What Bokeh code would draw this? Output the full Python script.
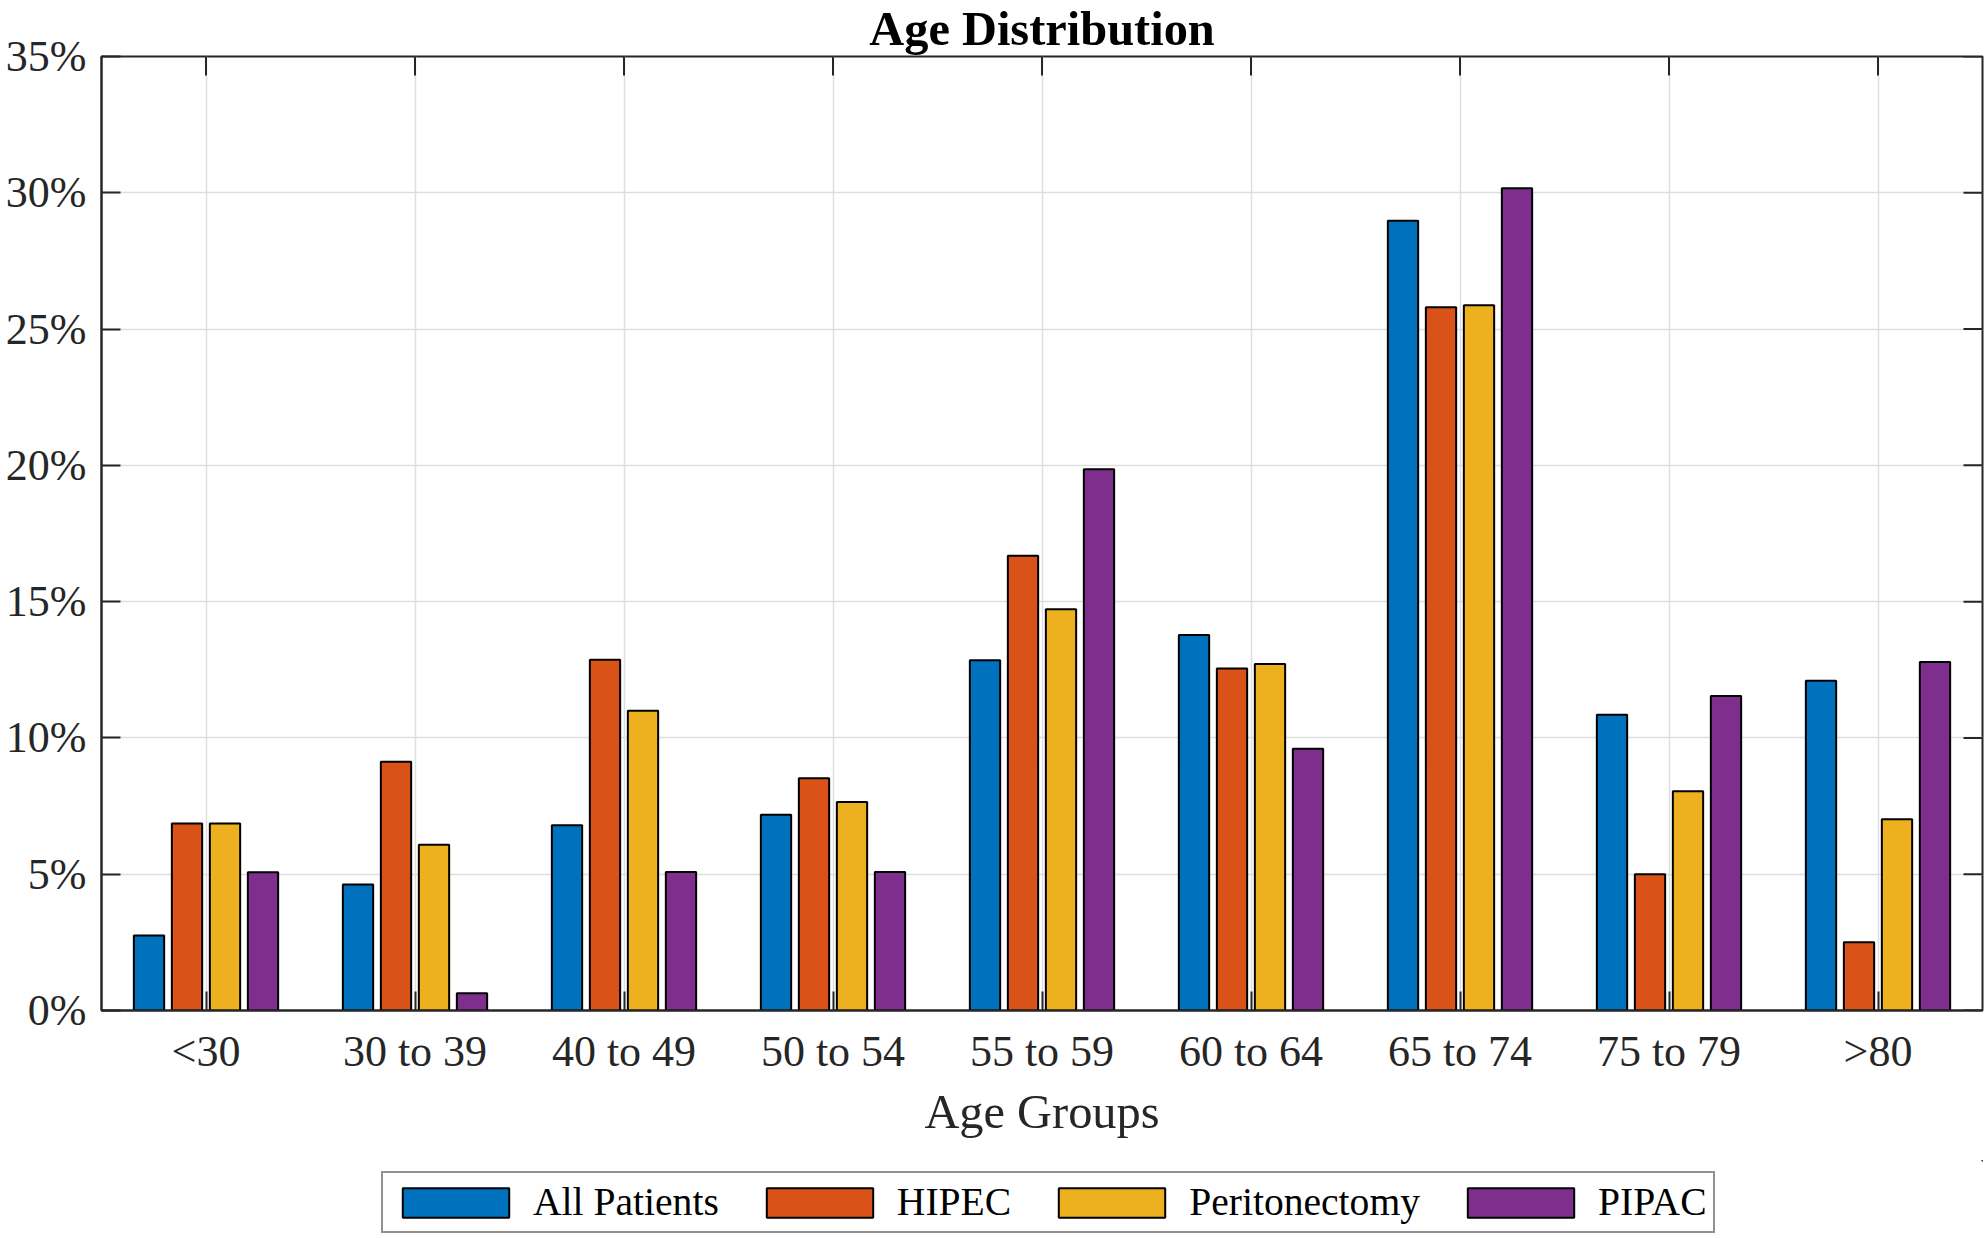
import math

from bokeh.plotting import figure
from bokeh.layouts import column
from bokeh.models import (ColumnDataSource, FactorRange, Range1d, FixedTicker,
                          PrintfTickFormatter, Legend, LegendItem)
from bokeh.transform import dodge
from bokeh.embed import file_html
from bokeh.resources import INLINE

# Share of patients (%) in each age group
age_groups = ["<30", "30 to 39", "40 to 49", "50 to 54", "55 to 59",
              "60 to 64", "65 to 74", "75 to 79", ">80"]
all_patients = [2.75, 4.62, 6.80, 7.18, 12.85, 13.78, 28.97, 10.85, 12.10]
hipec = [6.86, 9.13, 12.87, 8.52, 16.68, 12.55, 25.80, 5.00, 2.50]
peritonectomy = [6.86, 6.08, 11.00, 7.65, 14.72, 12.71, 25.87, 8.04, 7.02]
pipac = [5.07, 0.63, 5.08, 5.08, 19.86, 9.60, 30.17, 11.54, 12.79]

series_names = ["All Patients", "HIPEC", "Peritonectomy", "PIPAC"]
series_keys = ["all_patients", "hipec", "peritonectomy", "pipac"]
series_colors = ["#0072BD", "#D95319", "#EDB120", "#7E2F8E"]
y_ticks = [0, 5, 10, 15, 20, 25, 30, 35]
y_max = 35

source = ColumnDataSource(data=dict(
    group=age_groups,
    all_patients=all_patients,
    hipec=hipec,
    peritonectomy=peritonectomy,
    pipac=pipac,
))

FONT = "Liberation Serif"
INK = "#262626"
GRID = "#dedede"
TICK_LEN = 19
BAR_LINE = dict(line_color="black", line_width=2)

p = figure(
    width=1985, height=1160,
    x_range=FactorRange(*age_groups, range_padding=0),
    y_range=Range1d(0, y_max),
    output_backend="svg", toolbar_location=None,
    min_border_left=101, min_border_right=3,
    min_border_top=56, min_border_bottom=150,
    background_fill_color="white", border_fill_color="white",
)

# Grouped bars: four series per age group
offsets = [-0.2727, -0.0909, 0.0909, 0.2727]
for key, color, off in zip(series_keys, series_colors, offsets):
    p.vbar(x=dodge("group", off, range=p.x_range), top=key, width=0.145,
           source=source, fill_color=color, **BAR_LINE)

# Box ticks on the top and right edges (half of each dash is clipped by the frame)
top_ticks = ColumnDataSource(data=dict(group=age_groups, y=[y_max] * len(age_groups)))
p.scatter(x="group", y="y", source=top_ticks, marker="dash", size=2 * TICK_LEN,
          angle=math.pi / 2, line_color=INK, line_width=2)
right_ticks = ColumnDataSource(data=dict(group=[age_groups[-1]] * len(y_ticks), y=y_ticks))
p.scatter(x=dodge("group", 0.5, range=p.x_range), y="y", source=right_ticks,
          marker="dash", size=2 * TICK_LEN, line_color=INK, line_width=2)

# Title
p.title.text = "Age Distribution"
p.title.text_font = FONT
p.title.text_font_size = "48.4px"
p.title.text_font_style = "bold"
p.title.text_color = "black"
p.title.align = "center"
p.title.vertical_align = "top"
p.title.standoff = 0

# Frame and grid
p.outline_line_color = INK
p.outline_line_width = 2
p.xgrid.grid_line_color = GRID
p.ygrid.grid_line_color = GRID
p.xgrid.grid_line_width = 1.5
p.ygrid.grid_line_width = 1.5
p.ygrid.ticker = FixedTicker(ticks=y_ticks)

# Bottom axis
xb = p.below[0]
xb.axis_label = "Age Groups"
xb.axis_label_text_font = FONT
xb.axis_label_text_font_size = "48.4px"
xb.axis_label_text_font_style = "normal"
xb.axis_label_text_color = INK
xb.axis_label_standoff = 6
xb.major_label_text_font = FONT
xb.major_label_text_font_size = "44px"
xb.major_label_text_color = INK
xb.major_label_standoff = 16
xb.major_tick_in = TICK_LEN
xb.major_tick_out = 0
xb.major_tick_line_color = INK
xb.major_tick_line_width = 2
xb.axis_line_color = INK
xb.axis_line_width = 2

# Left axis
yl = p.left[0]
yl.ticker = FixedTicker(ticks=y_ticks)
yl.formatter = PrintfTickFormatter(format="%d%%")
yl.major_label_text_font = FONT
yl.major_label_text_font_size = "44px"
yl.major_label_text_color = INK
yl.major_label_standoff = 15
yl.major_tick_in = TICK_LEN
yl.major_tick_out = 0
yl.minor_tick_line_color = None
yl.major_tick_line_color = INK
yl.major_tick_line_width = 2
yl.axis_line_color = INK
yl.axis_line_width = 2

# Legend strip underneath the chart, keyed with the same bar styles.
# Its key renderers sit outside the strip's ranges, so only their swatches show.
key_fig = figure(
    width=1985, height=78,
    x_range=Range1d(0, 1), y_range=Range1d(0, 1),
    x_axis_type=None, y_axis_type=None,
    output_backend="svg", toolbar_location=None,
    min_border=0, outline_line_color=None,
    background_fill_color="white", border_fill_color="white",
)
key_fig.grid.visible = False
key_renderers = [
    key_fig.vbar(x=[5], bottom=[2], top=[3], width=0.1, fill_color=color, **BAR_LINE)
    for color in series_colors
]
legend = Legend(
    items=[LegendItem(label=n, renderers=[r]) for n, r in zip(series_names, key_renderers)],
    location=(280, 5), orientation="horizontal",
    border_line_color=INK, border_line_width=2,
    background_fill_color="white", background_fill_alpha=1,
    padding=6, spacing=34, margin=0,
    glyph_width=133, glyph_height=37, label_standoff=11,
    label_text_font=FONT, label_text_font_size="39.6px",
    label_text_color="black",
)
key_fig.add_layout(legend)

layout = column(p, key_fig, spacing=0)
open("out.html", "w").write(file_html(layout, INLINE))
